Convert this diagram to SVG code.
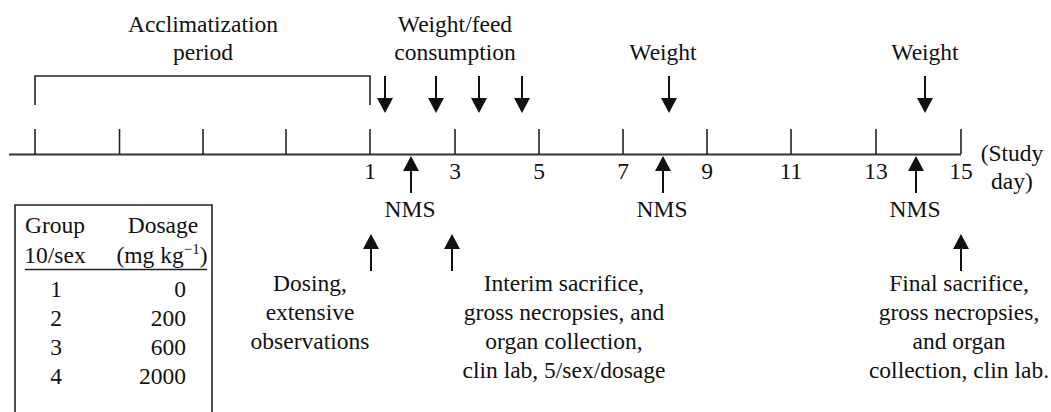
<svg xmlns="http://www.w3.org/2000/svg" width="1051" height="412" viewBox="0 0 1051 412">
<defs>
<style>
text{font-family:"Liberation Serif","Times New Roman",serif;font-size:23.5px;fill:#111;}
.c{text-anchor:middle;}
.r{text-anchor:end;}
.ln{stroke:#222;stroke-width:1.6;fill:none;}
.ax{stroke:#333;stroke-width:2;fill:none;}
.sh{stroke:#111;stroke-width:2;fill:none;}
.hd{fill:#111;}
</style>
</defs>
<rect width="1051" height="412" fill="#fff"/>
<g id="timeline">
<line class="ax" x1="9" y1="154.5" x2="961" y2="154.5"/>
<g class="ln">
<line x1="35" y1="129" x2="35" y2="154"/>
<line x1="119.5" y1="129" x2="119.5" y2="154"/>
<line x1="203" y1="129" x2="203" y2="154"/>
<line x1="286" y1="129" x2="286" y2="154"/>
<line x1="370" y1="129" x2="370" y2="154"/>
<line x1="455" y1="129" x2="455" y2="154"/>
<line x1="539" y1="129" x2="539" y2="154"/>
<line x1="623" y1="129" x2="623" y2="154"/>
<line x1="707" y1="129" x2="707" y2="154"/>
<line x1="791" y1="129" x2="791" y2="154"/>
<line x1="876" y1="129" x2="876" y2="154"/>
<line x1="961" y1="129" x2="961" y2="154"/>
</g>
<text class="c" x="370" y="179">1</text>
<text class="c" x="455" y="179">3</text>
<text class="c" x="539" y="179">5</text>
<text class="c" x="623" y="179">7</text>
<text class="c" x="707" y="179">9</text>
<text class="c" x="791" y="179">11</text>
<text class="c" x="876" y="179">13</text>
<text class="c" x="961" y="179">15</text>
<text class="c" x="1012" y="161">(Study</text>
<text class="c" x="1012" y="189">day)</text>
</g>
<g id="acclimatization">
<polyline class="ln" points="35,105 35,76 370,76 370,105"/>
<text class="c" x="203" y="32">Acclimatization</text>
<text class="c" x="203" y="60">period</text>
</g>
<g id="weight-feed">
<text class="c" x="455" y="32">Weight/feed</text>
<text class="c" x="455" y="60">consumption</text>
</g>
<g id="weight-8"><text class="c" x="663" y="60">Weight</text></g>
<g id="weight-14"><text class="c" x="925" y="60">Weight</text></g>
<g id="nms-2"><text class="c" x="410" y="217">NMS</text></g>
<g id="nms-8"><text class="c" x="662" y="217">NMS</text></g>
<g id="nms-14"><text class="c" x="915" y="217">NMS</text></g>
<g id="dosing">
<text class="c" x="310" y="291">Dosing,</text>
<text class="c" x="310" y="320">extensive</text>
<text class="c" x="310" y="349">observations</text>
</g>
<g id="interim">
<text class="c" x="564" y="291">Interim sacrifice,</text>
<text class="c" x="564" y="320">gross necropsies, and</text>
<text class="c" x="564" y="349">organ collection,</text>
<text class="c" x="564" y="378">clin lab, 5/sex/dosage</text>
</g>
<g id="final">
<text class="c" x="959" y="291">Final sacrifice,</text>
<text class="c" x="959" y="320">gross necropsies,</text>
<text class="c" x="959" y="349">and organ</text>
<text class="c" x="959" y="378">collection, clin lab.</text>
</g>
<g id="dosage-table">
<polyline class="ln" points="15,420 15,205 212,205 212,420"/>
<text class="c" x="55" y="233">Group</text>
<text class="c" x="55" y="263">10/sex</text>
<text class="c" x="163" y="233">Dosage</text>
<text class="c" x="162" y="263">(mg kg<tspan dy="-9" font-size="15">−1</tspan><tspan dy="9">)</tspan></text>
<line class="ln" x1="25" y1="269.5" x2="207" y2="269.5"/>
<text class="c" x="56" y="297">1</text><text class="r" x="186" y="297">0</text>
<text class="c" x="56" y="326">2</text><text class="r" x="186" y="326">200</text>
<text class="c" x="56" y="355">3</text><text class="r" x="186" y="355">600</text>
<text class="c" x="56" y="384">4</text><text class="r" x="186" y="384">2000</text>
</g>
<g id="connectors">
<g class="sh">
<line x1="385" y1="76" x2="385" y2="100"/>
<line x1="436" y1="76" x2="436" y2="100"/>
<line x1="479" y1="76" x2="479" y2="100"/>
<line x1="522" y1="76" x2="522" y2="100"/>
<line x1="669" y1="76" x2="669" y2="100"/>
<line x1="925" y1="76" x2="925" y2="100"/>
<line x1="411" y1="168" x2="411" y2="193"/>
<line x1="663" y1="168" x2="663" y2="193"/>
<line x1="916" y1="168" x2="916" y2="193"/>
<line x1="371" y1="247" x2="371" y2="271"/>
<line x1="452" y1="247" x2="452" y2="271"/>
<line x1="961" y1="247" x2="961" y2="271"/>
</g>
<g class="hd">
<polygon points="377,98 393,98 385,113"/>
<polygon points="428,98 444,98 436,113"/>
<polygon points="471,98 487,98 479,113"/>
<polygon points="514,98 530,98 522,113"/>
<polygon points="661,98 677,98 669,113"/>
<polygon points="917,98 933,98 925,113"/>
<polygon points="403,171 419,171 411,156"/>
<polygon points="655,171 671,171 663,156"/>
<polygon points="908,171 924,171 916,156"/>
<polygon points="363,249 379,249 371,234"/>
<polygon points="444,249 460,249 452,234"/>
<polygon points="953,249 969,249 961,234"/>
</g>
</g>
</svg>
